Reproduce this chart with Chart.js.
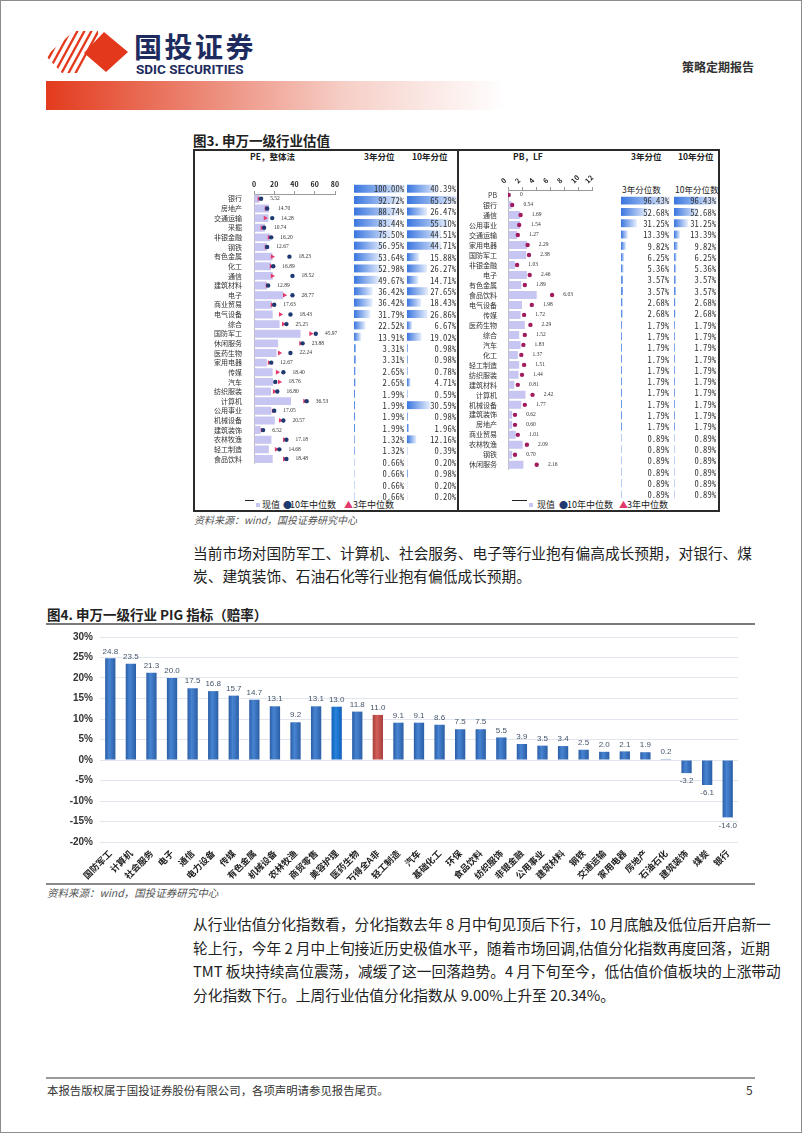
<!DOCTYPE html>
<html lang="zh">
<head>
<meta charset="utf-8">
<title>申万一级行业估值与PIG指标</title>
<script src="https://cdn.jsdelivr.net/npm/chart.js@4.4.1/dist/chart.umd.min.js"></script>
<style>
  html, body { margin:0; padding:0; background:#fff; }
  body { position:relative; width:802px; height:1133px; overflow:hidden; font-family:"Noto Sans CJK SC","Noto Sans",sans-serif; color:#222; }
  .a { position:absolute; white-space:nowrap; }
  canvas { position:absolute; display:block; }
  .jl { width:559px; text-align:justify; text-align-last:justify; }
</style>
</head>
<body>
<div class="a" style="left:0;top:0;width:800px;height:1131px;border:1px solid #8c8c8c;"></div>

<!-- header logo -->
<svg class="a" style="left:44px;top:30px" width="90" height="46" viewBox="44 30 90 46">
  <defs>
    <clipPath id="stripeClip"><polygon points="46,56 74,31 98,31 98,73 62,73"/></clipPath>
  </defs>
  <g clip-path="url(#stripeClip)" stroke="#e3381b" stroke-width="2.3">
    <line x1="40" y1="74" x2="64" y2="30"/>
    <line x1="47" y1="74" x2="71" y2="30"/>
    <line x1="54" y1="74" x2="78" y2="30"/>
    <line x1="61" y1="74" x2="85" y2="30"/>
    <line x1="68" y1="74" x2="92" y2="30"/>
    <line x1="75" y1="74" x2="99" y2="30"/>
  </g>
  <polygon points="104,32 128,52 106,72 84,53" fill="#e3381b"/>
</svg>
<div class="a" style="left:134px;top:28px;font-size:28px;font-weight:bold;color:#1d2b5e;letter-spacing:2.5px;line-height:36px;">国投证券</div>
<div class="a" style="left:136px;top:63px;font-family:Roboto,'Liberation Sans',sans-serif;font-size:13.5px;font-weight:bold;color:#1d2b5e;line-height:12px;letter-spacing:0px;">SDIC SECURITIES</div>
<div class="a" style="left:682px;top:59px;font-size:12px;font-weight:bold;line-height:16px;color:#333;">策略定期报告</div>
<div class="a" style="left:46px;top:81px;width:460px;height:29px;background:linear-gradient(to right,#e33b1d 0%,#ec8a78 35%,#f6cfc7 65%,#ffffff 100%);"></div>

<!-- Figure 3 -->
<div class="a" style="left:193px;top:131px;font-size:13.5px;font-weight:bold;line-height:18px;">图3. 申万一级行业估值</div>
<div class="a" style="left:193px;top:149px;width:523px;height:359px;border:2px solid #2a2a2a;"></div>
<div class="a" style="left:457px;top:149px;width:2px;height:363px;background:#2a2a2a;"></div>

<div class="a" style="left:250px;top:150px;font-size:8.5px;font-weight:bold;line-height:12px;">PE，整体法</div>
<div class="a" style="left:364px;top:150px;font-size:8.5px;font-weight:bold;line-height:12px;">3年分位</div>
<div class="a" style="left:412px;top:150px;font-size:8.5px;font-weight:bold;line-height:12px;">10年分位</div>
<div class="a" style="left:513px;top:150px;font-size:8.5px;font-weight:bold;line-height:12px;">PB，LF</div>
<div class="a" style="left:631px;top:150px;font-size:8.5px;font-weight:bold;line-height:12px;">3年分位</div>
<div class="a" style="left:678px;top:150px;font-size:8.5px;font-weight:bold;line-height:12px;">10年分位</div>
<div class="a" style="left:622px;top:183px;font-size:8.5px;line-height:12px;">3年分位数</div>
<div class="a" style="left:675px;top:183px;font-size:8.5px;line-height:12px;">10年分位数</div>

<!-- legends fig 3 -->
<div class="a" style="left:245px;top:500px;width:9px;height:1px;background:#222;"></div>
<div class="a" style="left:256px;top:503px;width:4px;height:4px;background:#c7c5f1;"></div>
<div class="a" style="left:262px;top:498px;font-size:9px;line-height:14px;">现值</div>
<div class="a" style="left:283px;top:498px;font-size:9px;line-height:14px;color:#1f3a70;">●</div>
<div class="a" style="left:290px;top:498px;font-size:9px;line-height:14px;">10年中位数</div>
<div class="a" style="left:344px;top:498px;font-size:9px;line-height:14px;color:#e23b6b;">▲</div>
<div class="a" style="left:353px;top:498px;font-size:9px;line-height:14px;">3年中位数</div>

<div class="a" style="left:512px;top:500px;width:15px;height:1px;background:#222;"></div>
<div class="a" style="left:529px;top:503px;width:4px;height:4px;background:#c7c5f1;"></div>
<div class="a" style="left:537px;top:498px;font-size:9px;line-height:14px;">现值</div>
<div class="a" style="left:559px;top:498px;font-size:9px;line-height:14px;color:#1f3a70;">●</div>
<div class="a" style="left:567px;top:498px;font-size:9px;line-height:14px;">10年中位数</div>
<div class="a" style="left:619px;top:498px;font-size:9px;line-height:14px;color:#e23b6b;">▲</div>
<div class="a" style="left:627px;top:498px;font-size:9px;line-height:14px;">3年中位数</div>

<div class="a" style="left:194px;top:513px;font-size:10px;font-style:italic;color:#555;line-height:14px;">资料来源：wind，国投证券研究中心</div>

<!-- paragraph 1 -->
<div class="a jl" style="left:193px;top:541px;font-size:14.7px;line-height:23px;color:#222;">当前市场对国防军工、计算机、社会服务、电子等行业抱有偏高成长预期，对银行、煤</div>
<div class="a" style="left:193px;top:564px;font-size:14.7px;line-height:23px;color:#222;">炭、建筑装饰、石油石化等行业抱有偏低成长预期。</div>

<!-- Figure 4 -->
<div class="a" style="left:47px;top:605px;font-size:13.5px;font-weight:bold;line-height:18px;">图4. 申万一级行业 PIG 指标（赔率）</div>
<div class="a" style="left:46px;top:623px;width:709px;height:2px;background:#7a7a7a;"></div>
<div class="a" style="left:46px;top:883px;width:709px;height:2px;background:#8a8a8a;"></div>
<div class="a" style="left:47px;top:886px;font-size:10.5px;font-style:italic;color:#555;line-height:14px;">资料来源：wind，国投证券研究中心</div>

<!-- paragraph 2 -->
<div class="a jl" style="left:193px;top:912px;font-size:14.7px;line-height:23.5px;">从行业估值分化指数看，分化指数去年 8 月中旬见顶后下行，10 月底触及低位后开启新一</div>
<div class="a jl" style="left:193px;top:935.5px;font-size:14.7px;line-height:23.5px;">轮上行，今年 2 月中上旬接近历史极值水平，随着市场回调,估值分化指数再度回落，近期</div>
<div class="a jl" style="left:193px;top:959px;font-size:14.7px;line-height:23.5px;">TMT 板块持续高位震荡，减缓了这一回落趋势。4 月下旬至今，低估值价值板块的上涨带动</div>
<div class="a" style="left:193px;top:982.5px;font-size:14.7px;line-height:23.5px;">分化指数下行。上周行业估值分化指数从 9.00%上升至 20.34%。</div>

<!-- footer -->
<div class="a" style="left:46px;top:1077px;width:709px;height:2px;background:#9a9a9a;"></div>
<div class="a" style="left:47px;top:1082px;font-size:11.4px;line-height:16px;color:#333;">本报告版权属于国投证券股份有限公司，各项声明请参见报告尾页。</div>
<div class="a" style="left:746px;top:1082px;font-size:12px;line-height:16px;color:#333;">5</div>

<script>
// ===== Figure 4 data: 申万一级行业 PIG 指标（赔率）=====
const pigCategories = ['国防军工','计算机','社会服务','电子','通信','电力设备','传媒','有色金属','机械设备','农林牧渔','商贸零售','美容护理','医药生物','万得全A非','轻工制造','汽车','基础化工','环保','食品饮料','纺织服饰','非银金融','公用事业','建筑材料','钢铁','交通运输','家用电器','房地产','石油石化','建筑装饰','煤炭','银行'];
const pigValues = [24.8,23.5,21.3,20.0,17.5,16.8,15.7,14.7,13.1,9.2,13.1,13.0,11.8,11.0,9.1,9.1,8.6,7.5,7.5,5.5,3.9,3.5,3.4,2.5,2.0,2.1,1.9,0.2,-3.2,-6.1,-14.0];
const pigTicks = [-20,-15,-10,-5,0,5,10,15,20,25,30];
const pigHighlightRed = '万得全A非';
const pigHighlightBlue = '美容护理';

// ===== Figure 3 left: PE，整体法 =====
const peCategories = ['银行','房地产','交通运输','采掘','非银金融','钢铁','有色金属','化工','通信','建筑材料','电子','商业贸易','电气设备','综合','国防军工','休闲服务','医药生物','家用电器','传媒','汽车','纺织服装','计算机','公用事业','机械设备','建筑装饰','农林牧渔','轻工制造','食品饮料'];
const peCurrent = [5.52,14.70,14.28,10.74,16.20,12.67,18.23,16.89,18.52,12.89,28.77,17.63,18.43,25.25,45.97,23.88,22.24,12.67,18.40,18.76,16.80,36.53,17.05,20.57,6.52,17.18,14.68,18.48];
const pe10yMedian = [7,13,18,10,17,13,35,19,38,14,38,20,36,32,61,48,36,17,29,21,23,52,20,29,9,32,25,32];
const pe3yMedian = [5,12,11,8,15,12,18,17,18,13,30,18,26,29,56,46,25,15,23,25,20,50,19,26,8,30,22,30];
const peTicks = [0,20,40,60,80];
const pe3yPct = [100.00,92.72,88.74,83.44,75.50,56.95,53.64,52.98,49.67,36.42,36.42,31.79,22.52,13.91,3.31,3.31,2.65,2.65,1.99,1.99,1.99,1.99,1.32,1.32,0.66,0.66,0.66,0.66];
const pe10yPct = [40.39,65.29,26.47,55.10,44.51,44.71,15.88,26.27,14.71,27.65,18.43,26.86,6.67,19.02,0.98,0.98,0.78,4.71,0.59,30.59,0.98,1.96,12.16,0.39,0.20,0.98,0.20,0.20];

// ===== Figure 3 right: PB，LF =====
const pbCategories = ['PB','银行','通信','公用事业','交通运输','家用电器','国防军工','非银金融','电子','有色金属','食品饮料','电气设备','传媒','医药生物','综合','汽车','化工','轻工制造','纺织服装','建筑材料','计算机','机械设备','建筑装饰','房地产','商业贸易','农林牧渔','钢铁','休闲服务'];
const pbBars = [0,0.5,1.7,1.7,1.3,2.7,2.6,1.0,2.7,1.9,4.1,2.0,1.8,2.4,1.6,1.8,1.4,1.6,1.5,0.9,2.5,1.9,0.6,0.6,1.1,2.1,0.6,2.2];
const pbDots = [0.1,0.6,1.8,1.6,1.4,2.8,3.0,1.3,3.1,2.4,6.3,3.4,2.3,3.2,2.4,2.2,1.9,2.3,2.0,1.4,3.5,2.4,1.0,1.0,1.4,2.7,1.0,4.1];
const pbValueLabels = ['0','0.54','1.69','1.54','1.27','2.29','2.38','1.03','2.46','1.89','6.03','1.98','1.72','2.29','1.52','1.83','1.37','1.51','1.44','0.81','2.42','1.77','0.62','0.60','1.01','2.09','0.70','2.16'];
const pbTicks = [0,2,4,6,8,10,12];
const pb3yPct = [96.43,52.68,31.25,13.39,9.82,6.25,5.36,3.57,3.57,2.68,2.68,1.79,1.79,1.79,1.79,1.79,1.79,1.79,1.79,1.79,1.79,0.89,0.89,0.89,0.89,0.89,0.89];
const pb10yPct = [96.43,52.68,31.25,13.39,9.82,6.25,5.36,3.57,3.57,2.68,2.68,1.79,1.79,1.79,1.79,1.79,1.79,1.79,1.79,1.79,1.79,0.89,0.89,0.89,0.89,0.89,0.89];

Chart.defaults.font.family = '"Noto Sans CJK SC", sans-serif';
Chart.defaults.devicePixelRatio = 1;

function makeCanvas(left, top, w, h) {
  const c = document.createElement('canvas');
  c.width = w; c.height = h;
  c.style.left = left + 'px'; c.style.top = top + 'px';
  c.style.width = w + 'px'; c.style.height = h + 'px';
  document.body.appendChild(c);
  return c;
}
const setTicks = arr => (s) => { s.ticks = arr.map(v => ({ value: v })); };

// ---------- Main PIG chart ----------
function pigColor(ctx) {
  const chart = ctx.chart;
  const xs = chart.scales.x;
  const i = ctx.dataIndex;
  const name = pigCategories[i];
  const stops = name === pigHighlightRed ? ['#a8403c', '#d25e58']
             : name === pigHighlightBlue ? ['#115fb8', '#2583dc']
             : ['#2b5ea6', '#4784d2'];
  if (!chart.chartArea || !xs || ctx.type !== 'data') return stops[0];
  const cx = xs.getPixelForValue(i);
  const w = xs.width / pigCategories.length * 0.5;
  const g = chart.ctx.createLinearGradient(cx - w / 2, 0, cx + w / 2, 0);
  g.addColorStop(0, stops[0]); g.addColorStop(0.4, stops[1]); g.addColorStop(1, stops[0]);
  return g;
}
const pigLabelPlugin = {
  id: 'pigLabels',
  afterDatasetsDraw(chart) {
    const ctx = chart.ctx;
    const meta = chart.getDatasetMeta(0);
    ctx.save();
    ctx.font = '8px "Liberation Sans", sans-serif';
    ctx.fillStyle = '#44546a';
    ctx.textAlign = 'center';
    meta.data.forEach((el, i) => {
      const v = pigValues[i];
      if (v >= 0) { ctx.textBaseline = 'bottom'; ctx.fillText(v.toFixed(1), el.x, el.y - 3); }
      else { ctx.textBaseline = 'top'; ctx.fillText(v.toFixed(1), el.x, el.y + 4); }
    });
    ctx.restore();
  }
};
new Chart(makeCanvas(47, 624, 710, 256), {
  type: 'bar',
  data: { labels: pigCategories, datasets: [{ data: pigValues, backgroundColor: pigColor, barPercentage: 0.5, categoryPercentage: 1, borderWidth: 0 }] },
  options: {
    responsive: false, animation: false,
    layout: { padding: { top: 7, right: 19, left: 0, bottom: 0 } },
    plugins: { legend: { display: false }, tooltip: { enabled: false } },
    scales: {
      x: {
        grid: { display: false, drawTicks: true, tickLength: 4 }, border: { display: false },
        ticks: { autoSkip: false, maxRotation: 45, minRotation: 45, padding: 2, color: '#222', font: { size: 9, weight: 'bold' } },
        afterFit: s => { s.height = 38; }
      },
      y: {
        min: -20, max: 30, afterBuildTicks: setTicks(pigTicks),
        ticks: { callback: v => v + '%', padding: 7, color: '#333', font: { family: '"Liberation Sans", sans-serif', size: 10, weight: 'bold' } },
        grid: { color: '#e1e6ee', drawTicks: false }, border: { display: false },
        afterFit: s => { s.width = 53; }
      }
    }
  },
  plugins: [pigLabelPlugin]
});

// ---------- Figure 3 left: PE ----------
const peLabelPlugin = {
  id: 'peLabels',
  afterDatasetsDraw(chart) {
    const ctx = chart.ctx, xs = chart.scales.x, ys = chart.scales.y;
    ctx.save();
    ctx.font = '5.5px "Liberation Serif", serif';
    ctx.fillStyle = '#333'; ctx.textAlign = 'left'; ctx.textBaseline = 'middle';
    peCurrent.forEach((v, i) => {
      const m = Math.max(v, pe10yMedian[i], pe3yMedian[i]);
      ctx.fillText(v.toFixed(2), xs.getPixelForValue(m + 9), ys.getPixelForValue(i));
    });
    ctx.restore();
  }
};
new Chart(makeCanvas(194, 174, 166, 298), {
  type: 'bar',
  data: {
    labels: peCategories,
    datasets: [
      { type: 'line', label: '10年中位数', data: pe10yMedian, showLine: false, pointStyle: 'circle', pointRadius: 2.2, pointBackgroundColor: '#1f3a70', pointBorderWidth: 0, order: 0 },
      { type: 'line', label: '3年中位数', data: pe3yMedian, showLine: false, pointStyle: 'triangle', rotation: 90, pointRadius: 2.8, pointBackgroundColor: '#e23b6b', pointBorderWidth: 0, order: 1 },
      { type: 'bar', label: '现值', data: peCurrent, backgroundColor: '#c7c5f1', barPercentage: 0.82, categoryPercentage: 1, order: 2 }
    ]
  },
  options: {
    indexAxis: 'y', responsive: false, animation: false,
    layout: { padding: { left: 0, right: 25, top: 0, bottom: 2 } },
    plugins: { legend: { display: false }, tooltip: { enabled: false } },
    scales: {
      x: {
        type: 'linear', position: 'top', min: 0, max: 80, afterBuildTicks: setTicks(peTicks),
        ticks: { autoSkip: false, padding: 2, color: '#222', font: { size: 7, weight: 'bold' } },
        grid: { display: true, drawOnChartArea: false, drawTicks: true, tickLength: 3, color: '#999' },
        border: { display: true, color: '#999' },
        afterFit: s => { s.height = 20; }
      },
      y: {
        type: 'category', ticks: { autoSkip: false, padding: 4, color: '#333', font: { size: 7 } },
        grid: { display: false }, border: { display: true, color: '#bbb' },
        afterFit: s => { s.width = 60; }
      }
    }
  },
  plugins: [peLabelPlugin]
});

// ---------- Figure 3 right: PB ----------
const pbLabelPlugin = {
  id: 'pbLabels',
  afterDatasetsDraw(chart) {
    const ctx = chart.ctx, xs = chart.scales.x, ys = chart.scales.y;
    ctx.save();
    ctx.font = '5.5px "Liberation Serif", serif';
    ctx.fillStyle = '#333'; ctx.textAlign = 'left'; ctx.textBaseline = 'middle';
    pbValueLabels.forEach((t, i) => {
      const m = Math.max(pbBars[i], pbDots[i]);
      ctx.fillText(t, xs.getPixelForValue(m + 1.6), ys.getPixelForValue(i));
    });
    ctx.restore();
  }
};
new Chart(makeCanvas(448, 172, 174, 305), {
  type: 'bar',
  data: {
    labels: pbCategories,
    datasets: [
      { type: 'line', label: '中位数', data: pbDots, showLine: false, pointStyle: 'circle', pointRadius: 2.2, pointBackgroundColor: '#a01c5f', pointBorderWidth: 0, order: 0 },
      { type: 'bar', label: '现值', data: pbBars, backgroundColor: '#c7c5f1', barPercentage: 0.8, categoryPercentage: 1, order: 1 }
    ]
  },
  options: {
    indexAxis: 'y', responsive: false, animation: false,
    layout: { padding: { left: 0, right: 30, top: 0, bottom: 2 } },
    plugins: { legend: { display: false }, tooltip: { enabled: false } },
    scales: {
      x: {
        type: 'linear', position: 'top', min: 0, max: 12, afterBuildTicks: setTicks(pbTicks),
        ticks: { autoSkip: false, padding: 2, color: '#222', font: { size: 7, weight: 'bold' } },
        grid: { display: true, drawOnChartArea: false, drawTicks: true, tickLength: 3, color: '#999' },
        border: { display: true, color: '#999' },
        afterFit: s => { s.height = 18; }
      },
      y: {
        type: 'category', ticks: { autoSkip: false, padding: 3, color: '#333', font: { size: 7 } },
        grid: { display: false }, border: { display: true, color: '#bbb' },
        afterFit: s => { s.width = 60; }
      }
    }
  },
  plugins: [pbLabelPlugin]
});

// ---------- percentile data-bar columns ----------
function pctGradient(ctx) {
  const chart = ctx.chart, xs = chart.scales.x;
  if (!chart.chartArea || !xs || ctx.type !== 'data') return '#3d78e0';
  const x0 = xs.getPixelForValue(0), x1 = xs.getPixelForValue(ctx.raw);
  if (x1 - x0 < 2) return '#5d8fe6';
  const g = chart.ctx.createLinearGradient(x0, 0, x1, 0);
  g.addColorStop(0, '#3a76df'); g.addColorStop(1, '#e8effc');
  return g;
}
const pctTextPlugin = {
  id: 'pctText',
  afterDatasetsDraw(chart) {
    const ctx = chart.ctx, meta = chart.getDatasetMeta(0), vals = chart.data.datasets[0].data;
    ctx.save();
    ctx.font = '8.6px "Noto Sans Mono CJK SC", "Liberation Mono", monospace';
    ctx.fillStyle = '#333'; ctx.textAlign = 'right'; ctx.textBaseline = 'middle';
    meta.data.forEach((el, i) => { ctx.fillText(vals[i].toFixed(2) + '%', chart.chartArea.right - 1, el.y + 0.5); });
    ctx.restore();
  }
};
function pctChart(values, left, top, w, h) {
  new Chart(makeCanvas(left, top, w, h), {
    type: 'bar',
    data: { labels: values.map((v, i) => 'r' + i), datasets: [{ data: values, backgroundColor: pctGradient, barPercentage: 0.7, categoryPercentage: 1, borderWidth: 0 }] },
    options: {
      indexAxis: 'y', responsive: false, animation: false, layout: { padding: 0 },
      plugins: { legend: { display: false }, tooltip: { enabled: false } },
      scales: { x: { display: false, min: 0, max: Math.max(...values) }, y: { display: false } }
    },
    plugins: [pctTextPlugin]
  });
}
pctChart(pe3yPct, 354, 183, 51, 319);
pctChart(pe10yPct, 407, 183, 50, 319);
pctChart(pb3yPct, 621, 195, 49, 305);
pctChart(pb10yPct, 674, 195, 43, 305);
</script>
</body>
</html>
